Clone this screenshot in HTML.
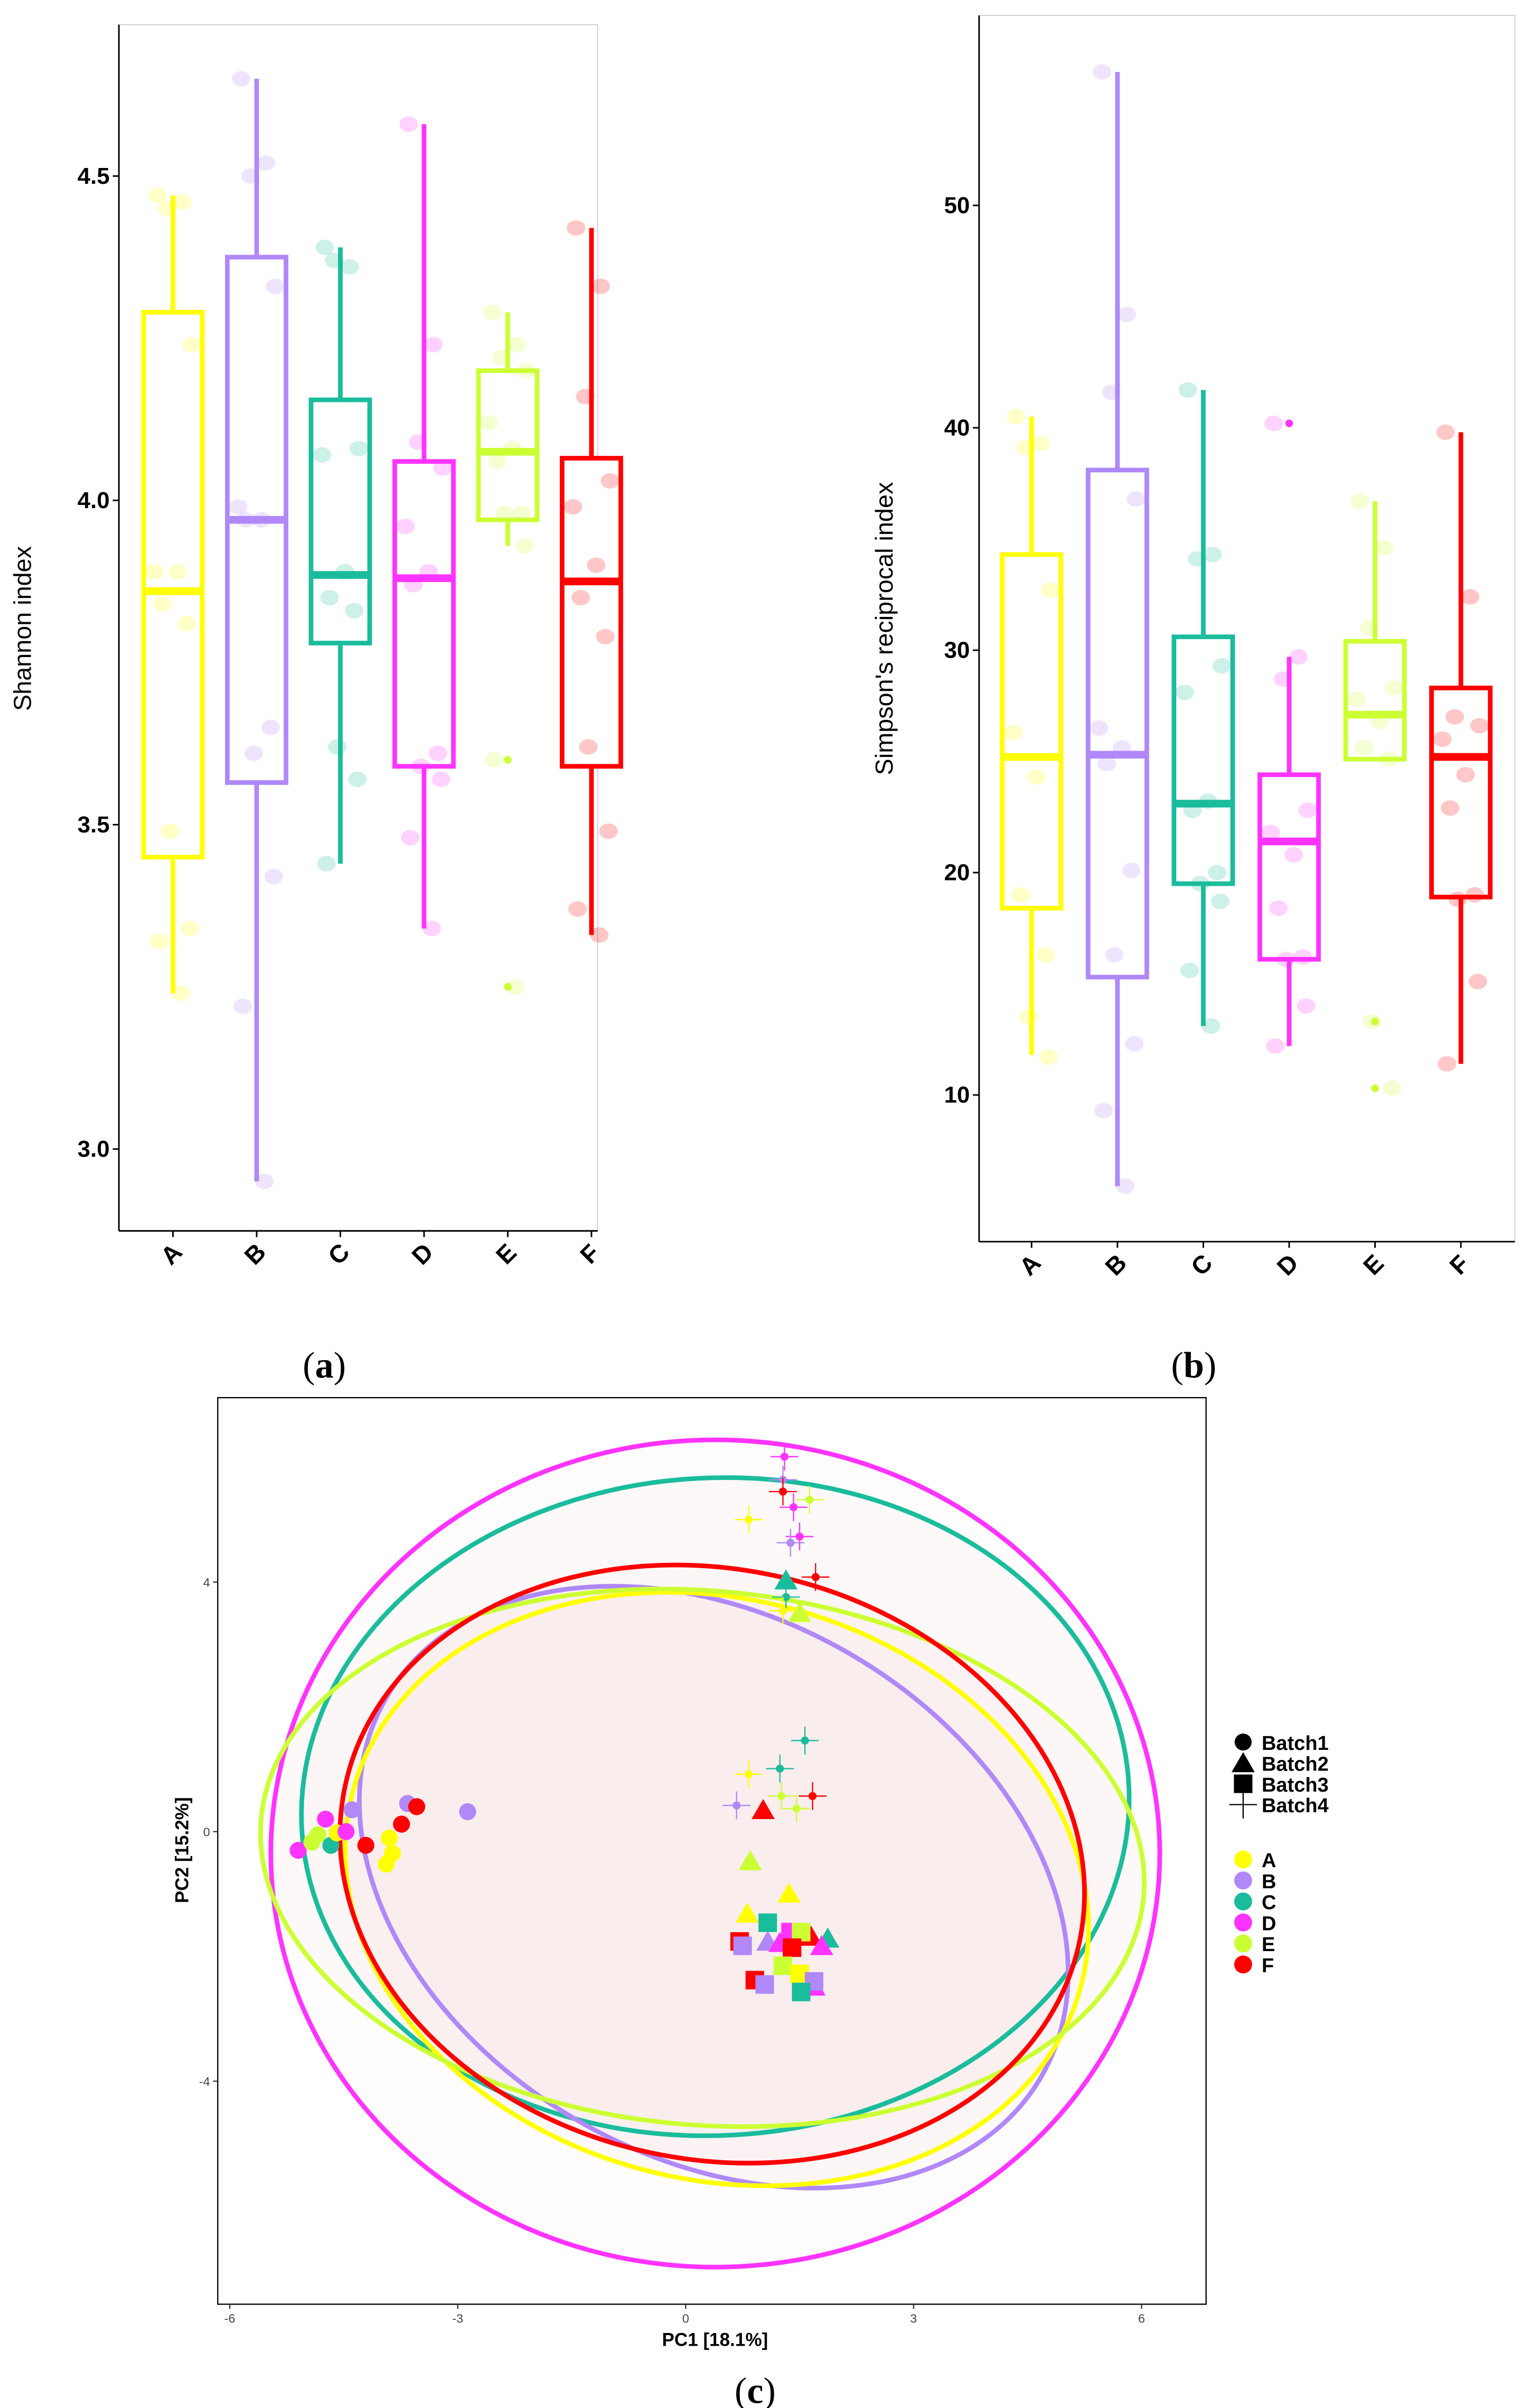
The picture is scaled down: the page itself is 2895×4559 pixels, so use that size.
<!DOCTYPE html>
<html><head><meta charset="utf-8"><style>
html,body{margin:0;padding:0;background:#fff}
svg{display:block}
text{font-family:"Liberation Sans",sans-serif}
</style></head><body>
<svg id="fig" width="2895" height="4559" viewBox="0 0 990.1 1559.2" preserveAspectRatio="none" xmlns="http://www.w3.org/2000/svg"></svg>
<script>
const groups=["A","B","C","D","E","F"];
const colors=["#FFFF00","#B088F8","#1ABC9C","#FF33FF","#CCFF33","#FF0000"];
// Panel a (Shannon) box stats: [lowWhisker,q1,median,q3,highWhisker]
const shanStats=[[3.24,3.45,3.86,4.29,4.47],[2.95,3.565,3.97,4.375,4.65],[3.44,3.78,3.885,4.155,4.39],[3.34,3.59,3.88,4.06,4.58],[3.93,3.97,4.075,4.20,4.29],[3.33,3.59,3.875,4.065,4.42]];
const shanOut=[[],[],[],[],[3.60,3.25],[]];
const shanPts=[[4.47,4.46,4.45,4.24,3.89,3.89,3.84,3.81,3.49,3.34,3.32,3.24],[4.65,4.52,4.50,4.33,3.99,3.97,3.97,3.65,3.61,3.42,3.22,2.95],[4.39,4.36,4.37,4.08,4.07,3.89,3.85,3.83,3.62,3.57,3.44],[4.58,4.24,4.09,4.05,3.96,3.89,3.87,3.61,3.59,3.57,3.48,3.34],[4.29,4.24,4.22,4.20,4.12,4.08,4.06,3.98,3.98,3.93,3.60,3.25],[4.42,4.33,4.16,4.03,3.99,3.90,3.85,3.79,3.62,3.49,3.37,3.33]];
const shanTicks=[3.0,3.5,4.0,4.5];
// Panel b (Simpson reciprocal)
const simpStats=[[11.8,18.4,25.2,34.3,40.5],[5.9,15.3,25.3,38.1,56],[13.1,19.5,23.1,30.6,41.7],[12.2,16.1,21.4,24.4,29.7],[25.1,25.1,27.1,30.4,36.7],[11.4,18.9,25.2,28.3,39.8]];
const simpOut=[[],[],[],[40.2],[13.3,10.3],[]];
const simpPts=[[40.5,39.3,39.1,32.7,26.3,24.3,19.0,16.3,13.5,11.7],[56,45.1,41.6,36.8,26.5,25.6,24.9,20.1,16.3,12.3,9.3,5.9],[41.7,34.3,34.1,29.3,28.1,23.2,22.8,20.0,19.5,18.7,15.6,13.1],[40.2,29.7,28.7,22.8,21.8,20.8,18.4,16.2,16.1,14.0,12.2],[36.7,34.6,31.0,28.3,27.8,26.8,25.6,25.1,13.3,10.3],[39.8,32.4,27.0,26.6,26.0,24.4,22.9,19.0,18.8,15.1,11.4]];
const simpTicks=[10,20,30,40,50];
// Panel c PCA: [group index, pc1, pc2]
const batch1=[[3,-5.10,-0.30],[4,-4.92,-0.17],[4,-4.84,-0.05],[3,-4.74,0.20],[2,-4.67,-0.22],[0,-4.59,-0.02],[3,-4.47,0],[1,-4.39,0.35],[5,-4.21,-0.22],[0,-3.90,-0.10],[0,-3.86,-0.35],[0,-3.94,-0.52],[5,-3.74,0.12],[1,-3.66,0.45],[5,-3.54,0.40],[1,-2.87,0.32]];
const batch2=[[2,1.32,4.03],[4,1.50,3.51],[5,1.02,0.35],[4,0.85,-0.47],[0,1.36,-0.99],[0,0.81,-1.31],[1,1.08,-1.76],[3,1.24,-1.78],[5,1.48,-1.68],[5,1.65,-1.68],[2,1.87,-1.71],[3,1.79,-1.83],[3,1.69,-2.48]];
const batch3=[[2,1.08,-1.46],[5,0.71,-1.76],[1,0.75,-1.83],[3,1.38,-1.61],[4,1.52,-1.61],[5,1.40,-1.86],[4,1.28,-2.15],[0,1.50,-2.28],[5,0.91,-2.38],[1,1.04,-2.45],[1,1.69,-2.40],[2,1.52,-2.57]];
const batch4=[[3,1.30,6.01],[1,1.28,5.64],[5,1.28,5.45],[4,1.63,5.32],[3,1.42,5.20],[0,0.83,5.00],[3,1.50,4.73],[1,1.38,4.63],[5,1.71,4.08],[2,1.32,3.76],[0,1.28,3.54],[2,1.57,1.46],[2,1.24,1.01],[0,0.83,0.92],[1,0.67,0.42],[4,1.26,0.57],[5,1.67,0.57],[4,1.46,0.37]];
// ellipses: [group, cx, cy, rx(x units), ry(y units), angle deg]
const ellipses=[[3,0.39,-0.35,5.85,6.63,0],[2,0.39,0.40,5.45,5.27,-3],[1,0.37,-0.89,4.98,4.33,30],[0,0.41,-0.92,4.96,4.65,15],[4,0.22,-0.42,5.83,4.28,5],[5,0.35,-0.52,4.94,4.73,12]];
const pcTicks=[-6,-3,0,3,6];
const pc2Ticks=[-4,0,4];

const NS="http://www.w3.org/2000/svg";
const svg=document.getElementById('fig');
function mk(tag,attrs,parent,txt){const e=document.createElementNS(NS,tag);for(const k in attrs)e.setAttribute(k,attrs[k]);if(txt!==undefined)e.textContent=txt;(parent||svg).appendChild(e);return e;}
const jit=[-10,6,-4,12,-12,3,-7,9,-2,11,-9,5];

function boxPanel(o){
  const g=mk('g',{});
  
  
  const Y=v=>o.y0-(v-o.v0)*o.k;
  const X=i=>o.x0+i*o.dx;
  const r=mk('rect',{x:o.L,y:o.T,width:o.R-o.L,height:o.B-o.T,fill:'#fff',stroke:'#ccc','stroke-width':0.6},g);
  
  mk('line',{x1:o.L,y1:o.T,x2:o.L,y2:o.B,stroke:'#000','stroke-width':1},g);
  mk('line',{x1:o.L,y1:o.B,x2:o.R,y2:o.B,stroke:'#000','stroke-width':1},g);
  o.ticks.forEach(t=>{
    mk('line',{x1:o.L-4,y1:Y(t),x2:o.L,y2:Y(t),stroke:'#000','stroke-width':1},g);
    const tx=mk('text',{x:o.L-6,y:Y(t)+5,'text-anchor':'end','font-size':15,'font-weight':'bold'},g,o.fmt(t));
    
  });
  groups.forEach((gname,i)=>{
    const c=colors[i],s=o.stats[i],x=X(i),w=19;
    const bg=mk('g',{},g);
    
    mk('line',{x1:x,y1:Y(s[4]),x2:x,y2:Y(s[3]),stroke:c,'stroke-width':3},bg);
    mk('line',{x1:x,y1:Y(s[1]),x2:x,y2:Y(s[0]),stroke:c,'stroke-width':3},bg);
    mk('rect',{x:x-w,y:Y(s[3]),width:2*w,height:Y(s[1])-Y(s[3]),fill:'#fff',stroke:c,'stroke-width':3},bg);
    mk('line',{x1:x-w,y1:Y(s[2]),x2:x+w,y2:Y(s[2]),stroke:c,'stroke-width':5},bg);
    o.out[i].forEach(v=>mk('circle',{cx:x,cy:Y(v),r:2.5,fill:c},bg));
    o.pts[i].forEach((v,j)=>mk('ellipse',{cx:x+jit[j%jit.length],cy:Y(v),rx:6,ry:5,fill:c,'fill-opacity':0.22},bg));
    mk('line',{x1:x,y1:o.B,x2:x,y2:o.B+4,stroke:'#000','stroke-width':1},g);
    const xl=mk('text',{x:x,y:o.B+20,'text-anchor':'middle','font-size':16,'font-weight':'bold',transform:`rotate(-45 ${x} ${o.B+16})`},g,gname);
    
  });
  const yt=mk('text',{x:o.ylx,y:o.yly,'text-anchor':'middle','font-size':16,transform:`rotate(-90 ${o.ylx} ${o.yly})`},g,o.ylabel);
  
}
boxPanel({name:'shannon-panel',L:77,R:387,T:16,B:797,v0:4,y0:324,k:420,x0:112,dx:54.2,stats:shanStats,out:shanOut,pts:shanPts,ticks:shanTicks,fmt:t=>t.toFixed(1),ylabel:'Shannon index',ylx:20,yly:407});
boxPanel({name:'simpson-panel',L:634,R:981,T:10,B:804,v0:10,y0:709,k:14.4,x0:668,dx:55.6,stats:simpStats,out:simpOut,pts:simpPts,ticks:simpTicks,fmt:t=>String(t),ylabel:"Simpson's reciprocal index",ylx:578,yly:407});

function panelLabel(x,y,l,n){const t=mk('text',{x:x,y:y,'text-anchor':'middle','font-size':24,style:'font-family:"Liberation Serif",serif'});
 
 mk('tspan',{},t,'(');mk('tspan',{'font-weight':'bold'},t,l);mk('tspan',{},t,')');}
panelLabel(210,892,'a','panel-label-a');panelLabel(773,892,'b','panel-label-b');panelLabel(489,1556,'c','panel-label-c');

// PCA
const pg=mk('g',{});

const PX=v=>444+v*49.2, PY=v=>1186-v*40.4;
mk('rect',{x:141,y:905,width:640,height:587,fill:'#fff',stroke:'#000','stroke-width':0.8},pg);
const fg=mk('g',{},pg);
ellipses.forEach(e=>{mk('ellipse',{cx:PX(e[1]),cy:PY(e[2]),rx:e[3]*49.2,ry:e[4]*40.4,fill:'#e8c8d4','fill-opacity':0.06,transform:`rotate(${e[5]} ${PX(e[1])} ${PY(e[2])})`},fg);});
const eg=mk('g',{},pg);
ellipses.forEach(e=>{const el=mk('ellipse',{cx:PX(e[1]),cy:PY(e[2]),rx:e[3]*49.2,ry:e[4]*40.4,fill:'none',stroke:colors[e[0]],'stroke-width':3,transform:`rotate(${e[5]} ${PX(e[1])} ${PY(e[2])})`},eg);
 });
batch1.forEach(p=>{const m=mk('circle',{cx:PX(p[1]),cy:PY(p[2]),r:5.5,fill:colors[p[0]]},pg);});
batch2.forEach(p=>{const x=PX(p[1]),y=PY(p[2]);const m=mk('polygon',{points:`${x},${y-7} ${x-7.5},${y+6} ${x+7.5},${y+6}`,fill:colors[p[0]]},pg);});
batch3.forEach(p=>{const x=PX(p[1]),y=PY(p[2]);const m=mk('rect',{x:x-6,y:y-6,width:12,height:12,fill:colors[p[0]]},pg);});
batch4.forEach(p=>{const x=PX(p[1]),y=PY(p[2]),c=colors[p[0]];const m=mk('g',{},pg);
 mk('line',{x1:x-9,y1:y,x2:x+9,y2:y,stroke:c,'stroke-width':0.8},m);mk('line',{x1:x,y1:y-9,x2:x,y2:y+9,stroke:c,'stroke-width':0.8},m);mk('circle',{cx:x,cy:y,r:2.6,fill:c},m);});
pcTicks.forEach(t=>{mk('line',{x1:PX(t),y1:1492,x2:PX(t),y2:1495,stroke:'#333','stroke-width':0.8},pg);const l=mk('text',{x:PX(t),y:1504,'text-anchor':'middle','font-size':8,fill:'#444'},pg,String(t));});
pc2Ticks.forEach(t=>{mk('line',{x1:138,y1:PY(t),x2:141,y2:PY(t),stroke:'#333','stroke-width':0.8},pg);const l=mk('text',{x:136,y:PY(t)+3,'text-anchor':'end','font-size':8,fill:'#444'},pg,String(t));});
const xa=mk('text',{x:463,y:1519,'text-anchor':'middle','font-size':12,'font-weight':'bold','xml:space':'preserve'},pg,'PC1   [18.1%]');
const ya=mk('text',{x:122,y:1198,'text-anchor':'middle','font-size':12,'font-weight':'bold','xml:space':'preserve',transform:'rotate(-90 122 1198)'},pg,'PC2   [15.2%]');
// legend
const lg=mk('g',{});

const by=[1128,1141.5,1155,1168.5];
mk('circle',{cx:805,cy:by[0],r:5.5,fill:'#000'},lg);
mk('polygon',{points:`805,${by[1]-7} 797.5,${by[1]+6} 812.5,${by[1]+6}`,fill:'#000'},lg);
mk('rect',{x:799,y:by[2]-6,width:12,height:12,fill:'#000'},lg);
mk('line',{x1:796,y1:by[3],x2:814,y2:by[3],stroke:'#000','stroke-width':0.8},lg);mk('line',{x1:805,y1:by[3]-9,x2:805,y2:by[3]+9,stroke:'#000','stroke-width':0.8},lg);
['Batch1','Batch2','Batch3','Batch4'].forEach((b,i)=>{const t=mk('text',{x:817,y:by[i]+5,'font-size':13,'font-weight':'bold'},lg,b);});
groups.forEach((g,i)=>{const y=1204+i*13.6;mk('circle',{cx:805,cy:y,r:5.8,fill:colors[i]},lg);const t=mk('text',{x:817,y:y+5,'font-size':13,'font-weight':'bold'},lg,g);});
</script>
</body></html>
